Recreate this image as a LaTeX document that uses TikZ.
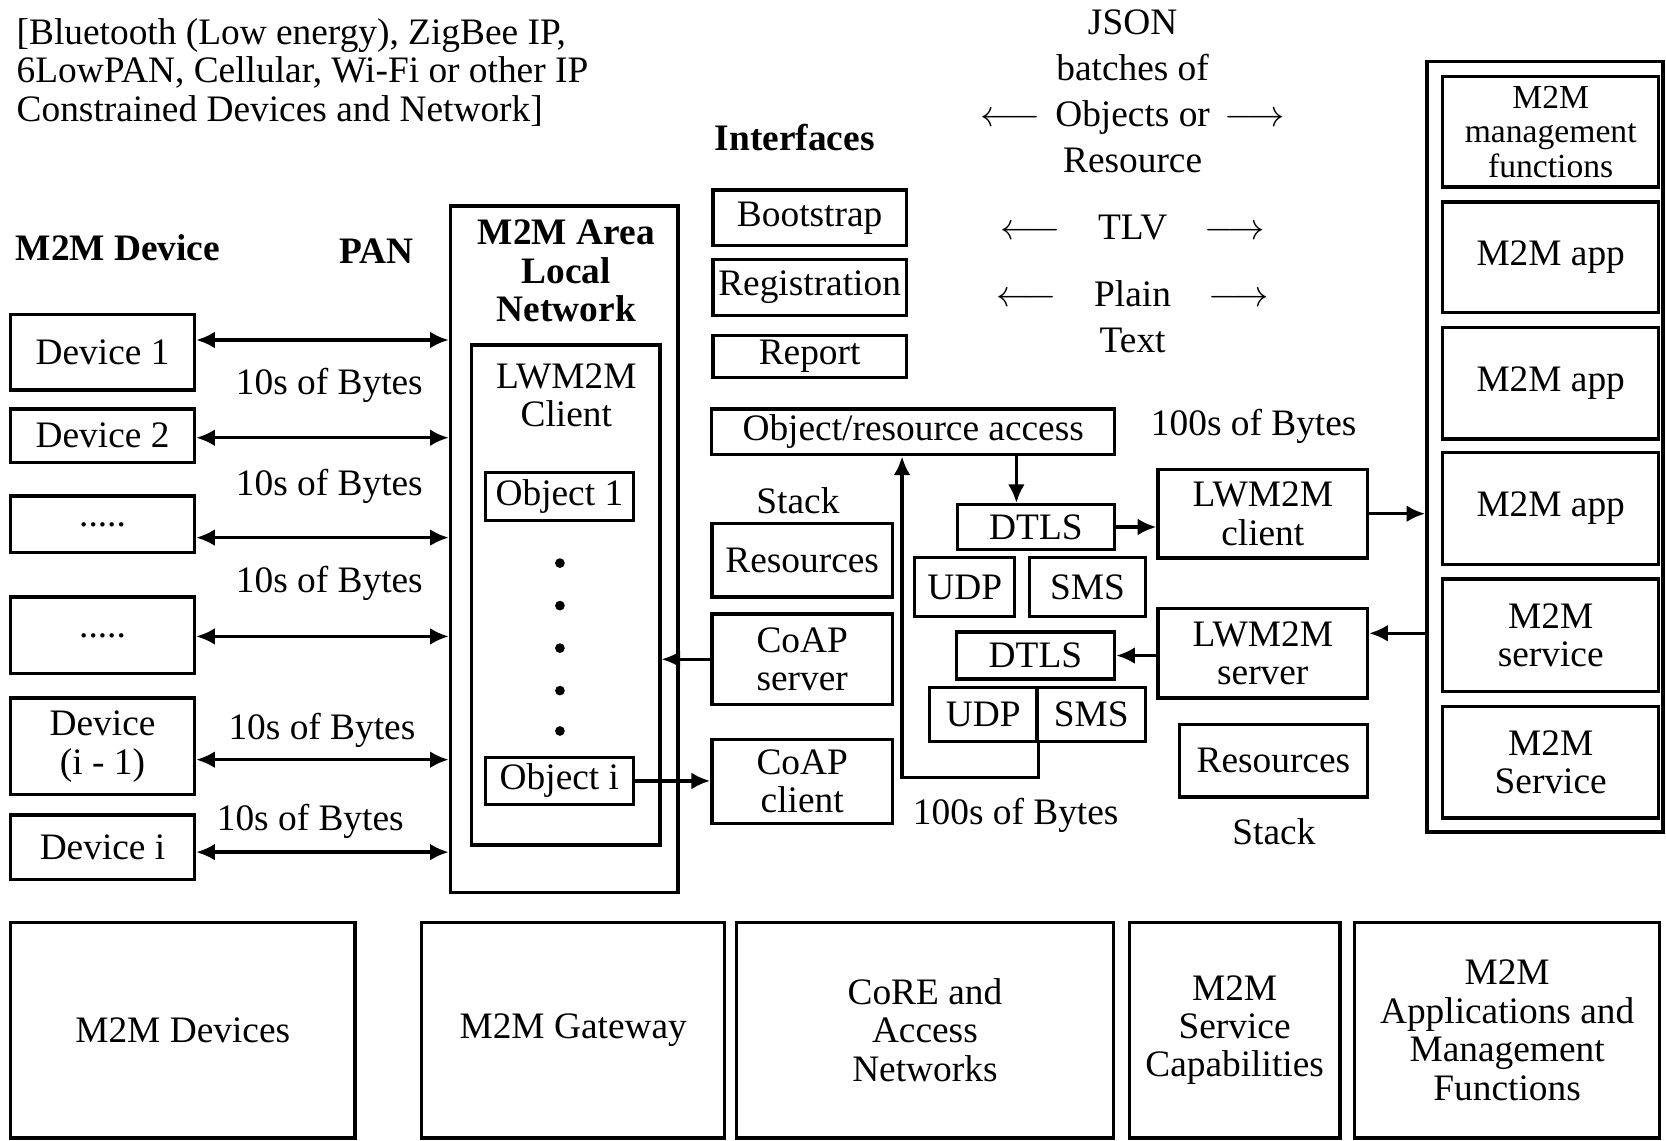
\documentclass[tikz,border=0pt]{standalone}
\usepackage{fontspec}
\setmainfont{Liberation Serif}
\usetikzlibrary{arrows.meta, calc, positioning}

\begin{document}
\begin{tikzpicture}[
  x = 0.01cm, y = -0.01cm,
  txt/.style    = {align=center, inner sep=0pt, font=\fontsize{10}{10.3}\selectfont},
  head/.style   = {txt, font=\fontsize{10}{10.3}\selectfont\bfseries},
  box/.style    = {rectangle, draw, line width=0.9pt, inner sep=1pt,
                   align=center, font=\fontsize{10}{10.3}\selectfont},
  arr/.style    = {-{Latex[length=5pt,width=4.5pt]}, line width=0.9pt},
  biarr/.style  = {{Latex[length=5pt,width=4.5pt]}-{Latex[length=5pt,width=4.5pt]}, line width=0.9pt},
]
\useasboundingbox (0,0) rectangle (1568,1073);

% note and headers
\node[txt, align=left, anchor=west] (note) at (15,68)
  {[Bluetooth (Low energy), ZigBee IP,\\6LowPAN, Cellular, Wi-Fi or other IP\\Constrained Devices and Network]};
\node[head] (devhead) at (111,233) {M2M Device};
\node[head] (panhead) at (354,236) {PAN};

% devices
\node[box, minimum width=1.73cm, minimum height=0.71cm] (dev1)     at (96.5,331.5) {Device 1};
\node[box, minimum width=1.73cm, minimum height=0.50cm] (dev2)     at (96.5,410)   {Device 2};
\node[box, minimum width=1.73cm, minimum height=0.53cm] (devdotsa) at (96.5,493.5) {.....};
\node[box, minimum width=1.73cm, minimum height=0.72cm] (devdotsb) at (96.5,598)   {.....};
\node[box, minimum width=1.73cm, minimum height=0.91cm] (devprev)  at (96.5,702.5) {Device\\(i - 1)};
\node[box, minimum width=1.73cm, minimum height=0.61cm] (devi)     at (96.5,797.5) {Device i};

% area network and client
\node[box, minimum width=2.14cm, minimum height=6.46cm] (net) at (531,517) {};
\node[head] (nettitle) at (533,255) {M2M Area\\Local\\Network};
\node[box, minimum width=1.77cm, minimum height=4.70cm] (client) at (532.5,560) {};
\node[txt] (clienttitle) at (533,372) {LWM2M\\Client};
\node[box, minimum width=1.39cm, minimum height=0.45cm] (obj1) at (526.5,467.5) {Object 1};
\node[box, minimum width=1.39cm, minimum height=0.44cm] (obji) at (526.5,735)   {Object i};
\foreach \y in {530,570,610,650,688}
  \fill (527,\y) circle (1.3pt);

\foreach \x/\y in {310/363, 310/458, 310/549, 303/687, 292/773}
  \node[txt] (bytes\y) at (\x,\y) {10s of Bytes};
\foreach \d/\o in {dev1/-11.5, dev2/2, devdotsa/12.5, devdotsb/1, devprev/12.5, devi/4.5}
  \draw[biarr] ($(\d.east)+(0,\o)$) -- ($(\d.east -| net.west)+(0,\o)$);

% interfaces and formats
\node[head] (ifhead) at (748,129) {Interfaces};
\node[box, minimum width=1.82cm, minimum height=0.52cm] (boot)   at (762,205)   {Bootstrap};
\node[box, minimum width=1.82cm, minimum height=0.53cm] (reg)    at (762,270.5) {Registration};
\node[box, minimum width=1.82cm, minimum height=0.39cm] (report) at (762,335.5) {Report};
\node[txt, font=\fontsize{10}{12.3}\selectfont] (json) at (1066,86)
  {JSON\\batches of\\$\longleftarrow$\hspace{0.4em}Objects or\hspace{0.4em}$\longrightarrow$\\Resource};
\node[txt] (tlv) at (1066,214) {$\longleftarrow$\hspace{1em}TLV\hspace{1em}$\longrightarrow$};
\node[txt, font=\fontsize{10}{12.3}\selectfont] (plain) at (1066,298.5)
  {$\longleftarrow$\hspace{1em}Plain\hspace{1em}$\longrightarrow$\\Text};

% gateway stack
\node[box, minimum width=3.79cm, minimum height=0.43cm] (oraccess) at (859.5,406.5) {Object/resource access};
\node[txt] (bytesup) at (1180,401) {100s of Bytes};
\node[txt] (stackl) at (751,471) {Stack};
\node[box, minimum width=1.70cm, minimum height=0.69cm] (resl)  at (755,527.5) {Resources};
\node[box, minimum width=1.70cm, minimum height=0.85cm] (coaps) at (755,620.5) {CoAP\\server};
\node[box, minimum width=1.70cm, minimum height=0.79cm] (coapc) at (755,735.5) {CoAP\\client};
\node[box, minimum width=1.48cm, minimum height=0.42cm] (dtlsu) at (975,496)    {DTLS};
\node[box, minimum width=0.94cm, minimum height=0.55cm] (udpu)  at (908,552.5)  {UDP};
\node[box, minimum width=1.09cm, minimum height=0.55cm] (smsu)  at (1023.5,552.5) {SMS};
\node[box, minimum width=1.49cm, minimum height=0.44cm] (dtlsl) at (974.5,617)  {DTLS};
\node[box, minimum width=1.01cm, minimum height=0.51cm] (udpl)  at (925.5,672.5) {UDP};
\node[box, minimum width=1.02cm, minimum height=0.51cm] (smsl)  at (1027,672.5) {SMS};
\coordinate (ret) at (849,732);
\node[txt] (bytesdn) at (956,767) {100s of Bytes};

% server side
\node[box, minimum width=1.97cm, minimum height=0.83cm] (lwc)  at (1188.5,483.5) {LWM2M\\client};
\node[box, minimum width=1.97cm, minimum height=0.84cm] (lws)  at (1188.5,615)   {LWM2M\\server};
\node[box, minimum width=1.77cm, minimum height=0.68cm] (resr) at (1198.5,716)   {Resources};
\node[txt] (stackr) at (1199,783) {Stack};

\node[box, minimum width=2.22cm, minimum height=7.25cm] (apps) at (1454,420.5) {};
\node[box, minimum width=2.03cm, minimum height=1.04cm, font=\fontsize{9}{9.2}\selectfont] (mgmt)
  at (1459.5,124) {M2M\\management\\functions};
\node[box, minimum width=2.03cm, minimum height=1.04cm] (app1) at (1459.5,242)   {M2M app};
\node[box, minimum width=2.03cm, minimum height=1.05cm] (app2) at (1459.5,360.5) {M2M app};
\node[box, minimum width=2.03cm, minimum height=1.05cm] (app3) at (1459.5,478.5) {M2M app};
\node[box, minimum width=2.03cm, minimum height=1.06cm] (svc1) at (1459.5,598)   {M2M\\service};
\node[box, minimum width=2.03cm, minimum height=1.05cm] (svc2) at (1459.5,717.5) {M2M\\Service};

% bottom row
\node[box, minimum width=3.24cm, minimum height=2.03cm] (bdev)  at (172,969.5)    {M2M Devices};
\node[box, minimum width=2.85cm, minimum height=2.03cm] (bgw)   at (539.5,969.5)  {M2M Gateway};
\node[box, minimum width=3.55cm, minimum height=2.03cm] (bcore) at (870.5,969.5)  {CoRE and\\Access\\Networks};
\node[box, minimum width=1.98cm, minimum height=2.03cm] (bsc)   at (1162,969.5)   {M2M\\Service\\Capabilities};
\node[box, minimum width=2.87cm, minimum height=2.03cm] (bapp)  at (1418.5,969.5) {M2M\\Applications and\\Management\\Functions};

% connectors
\draw[arr] (coaps.west) -- (coaps.west -| client.east);
\draw[arr] (obji.east) -- (obji.east -| coapc.west);
\draw[arr] (oraccess.south -| udpu.east) -- (udpu.east |- dtlsu.north);
\draw[arr] (dtlsu.east) -- (dtlsu.east -| lwc.west);
\draw[arr] (lwc.east) -- (lwc.east -| apps.west);
\draw[arr] ($(apps.west |- lws.east)+(0,-19)$) -- ($(lws.east)+(0,-19)$);
\draw[arr] (lws.west |- dtlsl.east) -- (dtlsl.east);
\draw[arr] (udpl.south east) |- (ret) -- (ret |- oraccess.south);
\end{tikzpicture}
\end{document}
